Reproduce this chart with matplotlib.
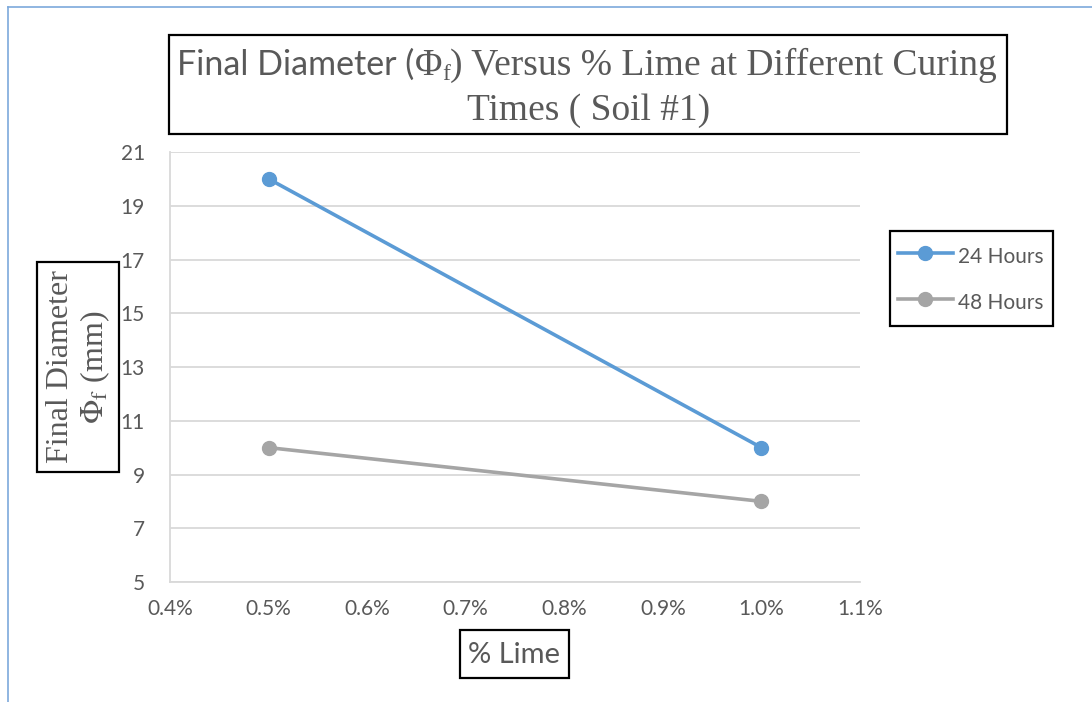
import matplotlib
matplotlib.use('Agg')
import matplotlib.pyplot as plt
from matplotlib.patches import Rectangle
from matplotlib.lines import Line2D
from matplotlib.ticker import FuncFormatter, MultipleLocator

# ---- data ----
lime_pct = [0.005, 0.010]
hours24 = [20, 10]
hours48 = [10, 8]
series_labels = ['24 Hours', '48 Hours']
y_ticks = [5, 7, 9, 11, 13, 15, 17, 19, 21]
x_title = '% Lime'
y_title_line1 = 'Final Diameter'

# ---- style ----
W, H = 1092, 702
TXT = '#595959'
BLUE = '#5B9BD5'
GRAY = '#A5A5A5'
GRID = '#D9D9D9'
SANS = 'Lato'
SERIF = 'Liberation Serif'
plt.rcParams['mathtext.fontset'] = 'stix'

fig = plt.figure(figsize=(W / 100, H / 100), dpi=100)
fig.patch.set_facecolor('white')


def fx(px):
    return px / W


def fy(py):
    return 1 - py / H


ax = fig.add_axes([fx(170), fy(582), (860 - 170) / W, (582 - 152) / H])
ax.plot(lime_pct, hours24, color=BLUE, lw=2.6, marker='o', ms=10, label=series_labels[0], zorder=3)
ax.plot(lime_pct, hours48, color=GRAY, lw=2.6, marker='o', ms=10, label=series_labels[1], zorder=3)
ax.set_xlim(0.004, 0.011)
ax.set_ylim(5, 21)
ax.xaxis.set_major_locator(MultipleLocator(0.001))
ax.set_yticks(y_ticks)
ax.xaxis.set_major_formatter(FuncFormatter(lambda v, p: f'{v * 100:.1f}%'))
ax.yaxis.set_major_formatter(FuncFormatter(lambda v, p: f'{v:.0f}'))
ax.grid(axis='y', color=GRID, lw=1.3)
ax.set_axisbelow(True)
for s in ['top', 'right']:
    ax.spines[s].set_visible(False)
for s in ['left', 'bottom']:
    ax.spines[s].set_color(GRID)
    ax.spines[s].set_linewidth(1.3)
ax.tick_params(length=0, labelcolor=TXT, labelsize=15)
ax.tick_params(axis='y', pad=18)
ax.tick_params(axis='x', pad=12)
for lab in ax.get_xticklabels() + ax.get_yticklabels():
    lab.set_fontfamily(SANS)

# ---- outer border (left & top) ----
fig.add_artist(Line2D([fx(8), 1], [fy(7), fy(7)], transform=fig.transFigure, color='#7DA9DB', lw=1.2))
fig.add_artist(Line2D([fx(8), fx(8)], [fy(7), 0], transform=fig.transFigure, color='#7DA9DB', lw=1.2))


def box(x0, y0, x1, y1):
    fig.add_artist(Rectangle((fx(x0), fy(y1)), fx(x1) - fx(x0), fy(y0) - fy(y1),
                             transform=fig.transFigure, fill=False, ec='black', lw=1.6))


# ---- title (mixed fonts) ----
renderer = fig.canvas.get_renderer()


def run(pieces, cx, base_y):
    objs = []
    total = 0
    for s, fam, size, dy in pieces:
        t = fig.text(0, 0, s, family=fam, fontsize=size, color=TXT, ha='left', va='baseline')
        w = t.get_window_extent(renderer=renderer).width
        objs.append((t, w, dy))
        total += w
    x = cx - total / 2
    for t, w, dy in objs:
        t.set_position((fx(x), fy(base_y + dy)))
        x += w


box(169, 35, 1007, 134)
run([('Final Diameter (', SANS, 24.5, 0),
     ('Φ', SERIF, 27, 0),
     ('f', SERIF, 17, 5),
     (') Versus % Lime at Different Curing', SERIF, 27, 0)], 587, 75)
run([('Times ( Soil #1)', SERIF, 27, 0)], 589, 120)

# ---- y title ----
box(37, 262, 119, 472)
fig.text(fx(79), fy(367), y_title_line1 + '\n' + r'$\Phi_{\mathrm{f}}$ (mm)', family=SERIF, fontsize=23,
         color=TXT, rotation=90, ha='center', va='center', multialignment='center', linespacing=1.15)

# ---- x title ----
box(460, 630, 569, 678)
fig.text(fx(514.5), fy(655), x_title, family=SANS, fontsize=21, color=TXT, ha='center', va='center')

# ---- legend ----
box(890, 231, 1053, 326)
leg = fig.legend(loc='upper left', bbox_to_anchor=(fx(890), fy(235)), frameon=False,
                 prop={'family': SANS, 'size': 15}, handlelength=2.6, handletextpad=0.25,
                 handleheight=1.5, labelspacing=0.99, borderpad=0.4, borderaxespad=0)
for t in leg.get_texts():
    t.set_color(TXT)

fig.savefig('out.png', dpi=100, facecolor='white')
